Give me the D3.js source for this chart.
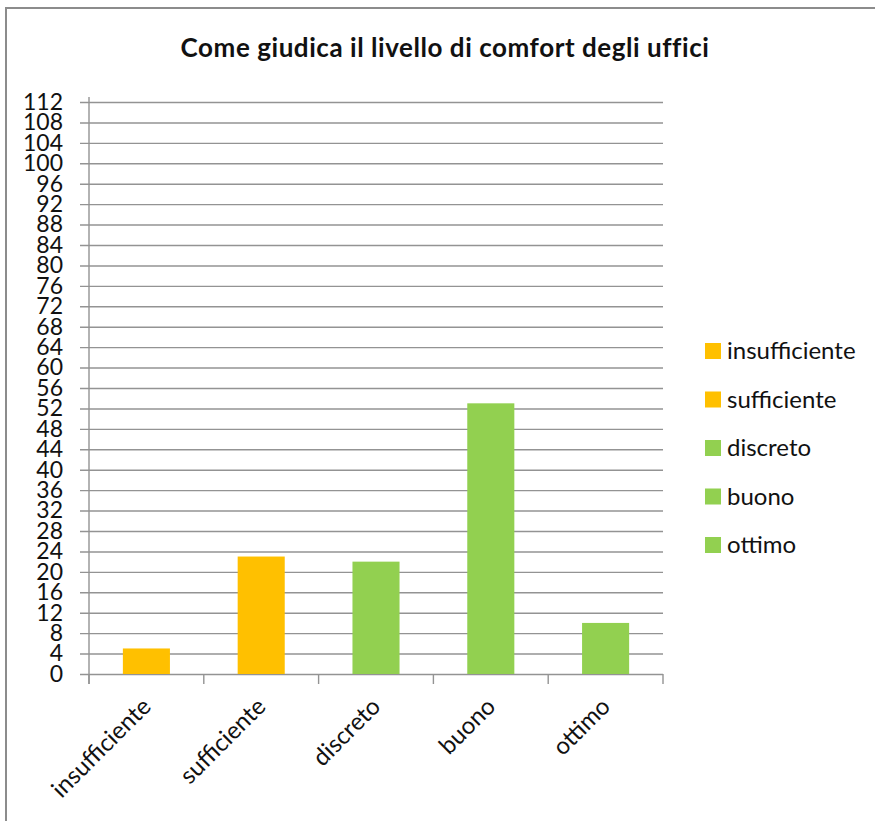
<!DOCTYPE html>
<html>
<head>
<meta charset="utf-8">
<script src="https://cdn.jsdelivr.net/npm/d3@7"></script>
<style>
  html, body { margin: 0; padding: 0; background: #fff; }
  svg { display: block; }
  text { font-family: Lato, "Open Sans", sans-serif; fill: #111; }
</style>
</head>
<body>
<svg id="chart" width="875" height="821"></svg>
<script>
// Survey answers: office comfort rating
const categories = ["insufficiente", "sufficiente", "discreto", "buono", "ottimo"];
const values = [5, 23, 22, 53, 10];
const barColors = ["#FFC000", "#FFC000", "#92D050", "#92D050", "#92D050"];
const yTicks = d3.range(0, 113, 4);
const title = "Come giudica il livello di comfort degli uffici";

const svg = d3.select("#chart");
const W = 875, H = 821;

// outer frame (top and left edges visible)
svg.append("line").attr("x1", 5).attr("x2", W).attr("y1", 8).attr("y2", 8)
  .attr("stroke", "#8c8c8c").attr("stroke-width", 2);
svg.append("line").attr("x1", 6).attr("x2", 6).attr("y1", 8).attr("y2", H)
  .attr("stroke", "#8c8c8c").attr("stroke-width", 2);

const plot = { left: 89, right: 663, top: 102, bottom: 674 };

const x = d3.scaleBand().domain(categories).range([plot.left, plot.right])
  .paddingInner(0.59).paddingOuter(0.295);
const band = d3.scaleBand().domain(categories).range([plot.left, plot.right]);
const y = d3.scaleLinear().domain([0, 112]).range([plot.bottom, plot.top]);

// title
svg.append("text")
  .attr("x", 445).attr("y", 57)
  .attr("text-anchor", "middle")
  .attr("font-size", 26).attr("font-weight", "bold")
  .attr("letter-spacing", 0.55)
  .text(title);

// horizontal gridlines with tick stubs
const yAxis = d3.axisLeft(y).tickValues(yTicks).tickSize(-(plot.right - plot.left)).tickSizeOuter(0).tickPadding(26);
const gy = svg.append("g").attr("transform", `translate(${plot.left},0)`).call(yAxis);
gy.select(".domain").remove();
gy.selectAll(".tick line").attr("x1", -9).attr("stroke", "#939393").attr("stroke-width", 1.4);
gy.selectAll(".tick text").attr("font-size", 23).attr("fill", "#111")
  .attr("font-family", "Lato, 'Open Sans', sans-serif");

// vertical axis line
svg.append("line").attr("x1", plot.left).attr("x2", plot.left)
  .attr("y1", plot.top - 5).attr("y2", plot.bottom + 10)
  .attr("stroke", "#939393").attr("stroke-width", 1.4);

// category separators below the baseline
const sepPositions = categories.map(c => band(c)).concat([plot.right]);
svg.append("g").selectAll("line").data(sepPositions).join("line")
  .attr("x1", d => d).attr("x2", d => d)
  .attr("y1", plot.bottom).attr("y2", plot.bottom + 10)
  .attr("stroke", "#939393").attr("stroke-width", 1.4);

// bars
svg.append("g").selectAll("rect").data(categories).join("rect")
  .attr("x", d => x(d))
  .attr("width", x.bandwidth())
  .attr("y", (d, i) => y(values[i]))
  .attr("height", (d, i) => y(0) - y(values[i]))
  .attr("fill", (d, i) => barColors[i]);

// rotated category labels
svg.append("g").selectAll("text").data(categories).join("text")
  .attr("text-anchor", "end")
  .attr("font-size", 24)
  .attr("transform", d => {
    const cx = band(d) + band.bandwidth() / 2 + 6;
    return `translate(${cx},${plot.bottom + 34}) rotate(-45)`;
  })
  .text(d => d);

// legend
const legend = svg.append("g").attr("transform", "translate(705,351)");
const rows = legend.selectAll("g").data(categories).join("g")
  .attr("transform", (d, i) => `translate(0,${i * 48.5})`);
rows.append("rect").attr("x", 0).attr("y", -8).attr("width", 16).attr("height", 16)
  .attr("fill", (d, i) => barColors[i]);
rows.append("text").attr("x", 22).attr("y", 0).attr("dy", "0.35em")
  .attr("font-size", 24).text(d => d);
</script>
</body>
</html>
